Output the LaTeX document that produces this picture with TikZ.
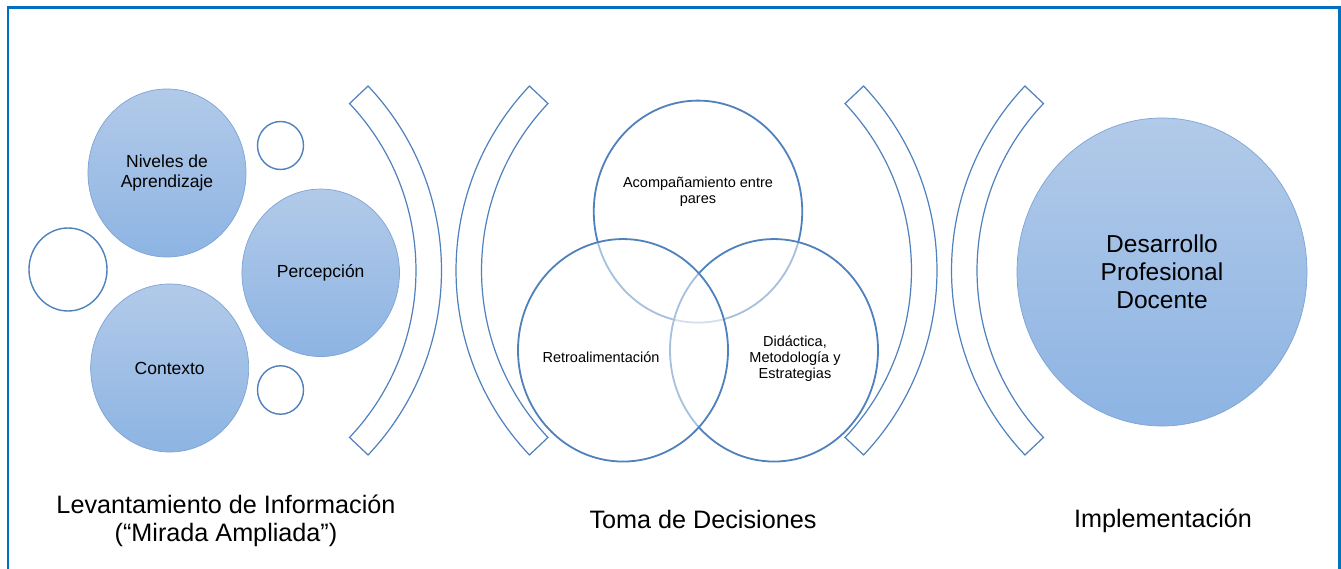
\documentclass[tikz,border=0pt]{standalone}
\usepackage{fontspec}
\setmainfont{Liberation Sans}
\usetikzlibrary{shapes.geometric,calc}
\definecolor{framec}{RGB}{0,112,192}
\definecolor{linec}{RGB}{79,129,189}
\definecolor{topc}{RGB}{178,202,233}
\definecolor{botc}{RGB}{141,180,227}
\definecolor{edgec}{RGB}{125,164,215}
\tikzset{
  frame/.style={draw=framec, line width=2.4pt},
  ball/.style={ellipse, draw=edgec, line width=0.7pt, top color=topc, bottom color=botc, inner sep=0pt, align=center},
  ring/.style={ellipse, draw=linec, line width=1.4pt, fill=white, inner sep=0pt},
  venn/.style={ellipse, draw=linec, line width=1.8pt, fill=white, fill opacity=0.5, inner sep=0pt},
  blockarc/.style={draw=linec, line width=1.2pt, line join=miter},
  small/.style={font=\fontsize{17.5}{19.4}\selectfont},
  vtext/.style={inner sep=0pt, align=center, font=\fontsize{14.5}{16}\selectfont},
  big/.style={font=\fontsize{24.5}{28}\selectfont},
  caption/.style={inner sep=0pt, align=center, font=\fontsize{25.2}{27.9}\selectfont}
}
\begin{document}
\begin{tikzpicture}[x=1pt, y=-1pt]
\useasboundingbox (0,0) rectangle (1341,569);
\clip (0,0) rectangle (1341,569);
\fill[white] (0,0) rectangle (1341,569);
\draw[frame] (8,7.5) rectangle (1339.5,620);

% left cluster
\node[ring, minimum width=78pt, minimum height=83pt] (r1) at (68,269.5) {};
\node[ring, minimum width=46pt, minimum height=48pt] (r2) at (280.5,145.5) {};
\node[ring, minimum width=46pt, minimum height=48.5pt] (r3) at (280.5,390) {};
\node[ball, small, minimum width=158pt, minimum height=168pt] (niv) at (167,173) {Niveles de\\Aprendizaje};
\node[ball, small, minimum width=157.5pt, minimum height=167.5pt] (per) at (320.7,272.8) {Percepción};
\node[ball, small, minimum width=158pt, minimum height=168pt] (con) at (169.7,368) {Contexto};

% brackets
\draw[blockarc] ($(173,270.5)+(-43.4:268.5pt)$) arc[start angle=-43.4, end angle=43.4, radius=268.5pt]
  -- ($(173,270.5)+(43.4:243pt)$) arc[start angle=43.4, end angle=-43.4, radius=243pt] -- cycle;
\draw[blockarc] ($(724.5,270.5)+(136.6:268.5pt)$) arc[start angle=136.6, end angle=223.4, radius=268.5pt]
  -- ($(724.5,270.5)+(223.4:243pt)$) arc[start angle=223.4, end angle=136.6, radius=243pt] -- cycle;
\draw[blockarc] ($(668.5,270.5)+(-43.4:268.5pt)$) arc[start angle=-43.4, end angle=43.4, radius=268.5pt]
  -- ($(668.5,270.5)+(43.4:243pt)$) arc[start angle=43.4, end angle=-43.4, radius=243pt] -- cycle;
\draw[blockarc] ($(1220,270.5)+(136.6:268.5pt)$) arc[start angle=136.6, end angle=223.4, radius=268.5pt]
  -- ($(1220,270.5)+(223.4:243pt)$) arc[start angle=223.4, end angle=136.6, radius=243pt] -- cycle;

% venn
\node[venn, minimum width=208.5pt, minimum height=222pt] (vt) at (698,211.6) {};
\node[venn, minimum width=208pt, minimum height=222.5pt] (vr) at (774,350.3) {};
\node[venn, minimum width=210pt, minimum height=222.5pt] (vl) at (623,350.3) {};
\node[vtext] (tacomp) at (698,191.6) {Acompañamiento entre\\pares};
\node[vtext] (tretro) at (601,357.5) {Retroalimentación};
\node[vtext] (tdid) at (795,359) {Didáctica,\\Metodología y\\Estrategias};

% right
\node[ball, big, minimum width=290pt, minimum height=308pt] (dpd) at (1162,272) {Desarrollo\\Profesional\\Docente};

% captions
\node[caption] (c1) at (226,521.1) {Levantamiento de Información\\(“Mirada Ampliada”)};
\node[caption] (c2) at (703,519) {Toma de Decisiones};
\node[caption] (c3) at (1163,521.3) {Implementación};
\end{tikzpicture}
\end{document}
